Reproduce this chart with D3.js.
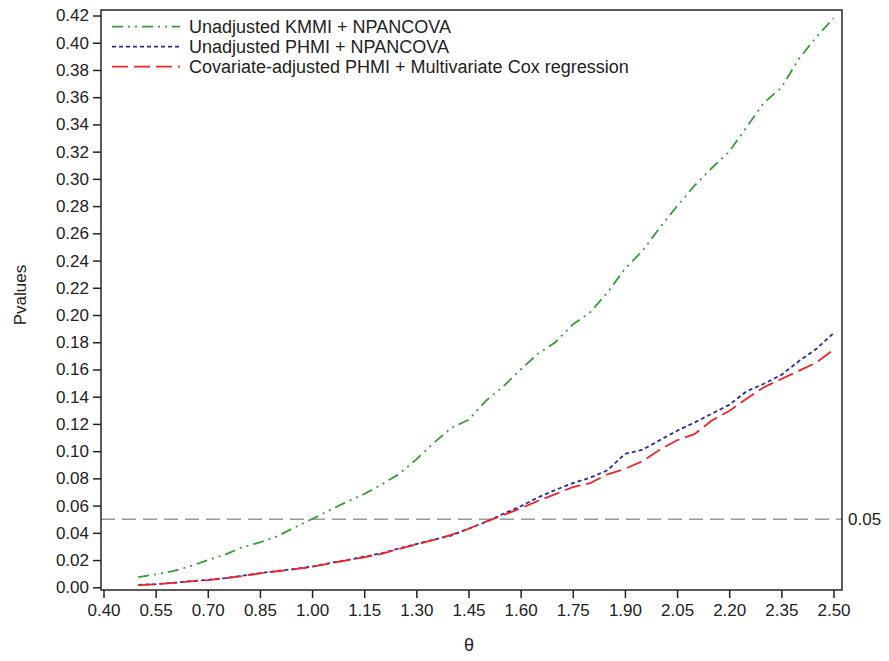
<!DOCTYPE html>
<html>
<head>
<meta charset="utf-8">
<script src="https://cdn.jsdelivr.net/npm/d3@7"></script>
<style>
  body { margin: 0; background: #fff; }
  svg { display: block; font-family: Arial, "Liberation Sans", sans-serif; }
  .tick text { font-size: 17px; fill: #222; }
  .domain { display: none; }
  .tick line { stroke: #222; stroke-width: 1.5; }
</style>
</head>
<body>
<svg id="chart"></svg>
<script>
const width = 889;
const height = 661;

// theta grid and p-values
var theta = [0.50, 0.55, 0.60, 0.65, 0.70, 0.75, 0.80, 0.85, 0.90, 0.95,
             1.00, 1.05, 1.10, 1.15, 1.20, 1.25, 1.30, 1.35, 1.40, 1.45,
             1.50, 1.55, 1.60, 1.65, 1.70, 1.75, 1.80, 1.85, 1.90, 1.95,
             2.00, 2.05, 2.10, 2.15, 2.20, 2.25, 2.30, 2.35, 2.40, 2.45, 2.50];
var kmmiNpancova = [0.0075, 0.0095, 0.0118, 0.0155, 0.0200, 0.0240, 0.0295, 0.0330, 0.0375, 0.0440,
                    0.0502, 0.0565, 0.0628, 0.0685, 0.0755, 0.0832, 0.0940, 0.1060, 0.1170, 0.1230,
                    0.1370, 0.1475, 0.1600, 0.1715, 0.1800, 0.1930, 0.2020, 0.2165, 0.2340, 0.2470,
                    0.2640, 0.2800, 0.2950, 0.3080, 0.3200, 0.3380, 0.3560, 0.3670, 0.3880, 0.4040, 0.4180];
var phmiNpancova = [0.0018, 0.0023, 0.0032, 0.0045, 0.0055, 0.0068, 0.0085, 0.0104, 0.0120, 0.0135,
                    0.0152, 0.0178, 0.0200, 0.0225, 0.0250, 0.0285, 0.0318, 0.0350, 0.0380, 0.0430,
                    0.0480, 0.0540, 0.0595, 0.0660, 0.0715, 0.0765, 0.0805, 0.0860, 0.0980, 0.1010,
                    0.1080, 0.1150, 0.1210, 0.1275, 0.1340, 0.1440, 0.1495, 0.1560, 0.1660, 0.1750, 0.1866];
var phmiCox = [0.0016, 0.0022, 0.0032, 0.0043, 0.0053, 0.0066, 0.0083, 0.0102, 0.0118, 0.0133,
               0.0150, 0.0175, 0.0198, 0.0220, 0.0246, 0.0282, 0.0315, 0.0348, 0.0385, 0.0430,
               0.0482, 0.0530, 0.0580, 0.0635, 0.0685, 0.0735, 0.0765, 0.0830, 0.0870, 0.0925,
               0.1010, 0.1080, 0.1125, 0.1225, 0.1295, 0.1385, 0.1470, 0.1530, 0.1590, 0.1650, 0.1745];

var seriesNames = ["Unadjusted KMMI + NPANCOVA",
                   "Unadjusted PHMI + NPANCOVA",
                   "Covariate-adjusted PHMI + Multivariate Cox regression"];
var xTicks = [0.40, 0.55, 0.70, 0.85, 1.00, 1.15, 1.30, 1.45, 1.60, 1.75, 1.90, 2.05, 2.20, 2.35, 2.50];
var yTicks = d3.range(0, 22).map(i => i * 0.02);
var refP = 0.05;

var series = [
    { name: seriesNames[0], values: kmmiNpancova, color: "#3a9a3a", dash: "11,5,2,5,2,5", w: 1.8 },
    { name: seriesNames[1], values: phmiNpancova, color: "#2b2b9a", dash: "4,3", w: 1.8 },
    { name: seriesNames[2], values: phmiCox, color: "#e8262b", dash: "16,6", w: 1.8 }
];

var frame = { left: 101, right: 842, top: 10, bottom: 590 };

var svg = d3.select("#chart")
    .attr("width", width)
    .attr("height", height);

var x = d3.scaleLinear().domain([0.40, 2.50]).range([103.5, 833.5]);
var y = d3.scaleLinear().domain([0, 0.42]).range([587.3, 15.5]);

// reference line at p = 0.05
svg.append("line")
    .attr("x1", frame.left)
    .attr("x2", frame.right)
    .attr("y1", y(refP))
    .attr("y2", y(refP))
    .attr("stroke", "#9a9a9a")
    .attr("stroke-width", 1.6)
    .attr("stroke-dasharray", "14,7");
svg.append("text")
    .attr("x", frame.right + 6)
    .attr("y", y(refP))
    .attr("dy", "0.35em")
    .style("font-size", "17px")
    .attr("fill", "#222")
    .text(refP.toFixed(2));

var line = d3.line()
    .x((d, i) => x(theta[i]))
    .y(d => y(d));

series.forEach(function(s) {
    svg.append("path")
        .datum(s.values)
        .attr("fill", "none")
        .attr("stroke", s.color)
        .attr("stroke-width", s.w)
        .attr("stroke-dasharray", s.dash)
        .attr("d", line);
});

// frame
svg.append("rect")
    .attr("x", frame.left)
    .attr("y", frame.top)
    .attr("width", frame.right - frame.left)
    .attr("height", frame.bottom - frame.top)
    .attr("fill", "none")
    .attr("stroke", "#333")
    .attr("stroke-width", 1.6);

svg.append("g")
    .attr("transform", "translate(0," + frame.bottom + ")")
    .call(d3.axisBottom(x).tickValues(xTicks).tickFormat(d3.format(".2f")).tickSize(8).tickPadding(6));

svg.append("g")
    .attr("transform", "translate(" + frame.left + ",0)")
    .call(d3.axisLeft(y).tickValues(yTicks).tickFormat(d3.format(".2f")).tickSize(8).tickPadding(4));

svg.append("text")
    .attr("x", 469)
    .attr("y", 651)
    .attr("text-anchor", "middle")
    .style("font-size", "18px")
    .attr("fill", "#222")
    .text("θ");

svg.append("text")
    .attr("transform", "translate(26,295) rotate(-90)")
    .attr("text-anchor", "middle")
    .style("font-size", "17px")
    .attr("fill", "#222")
    .text("Pvalues");

// legend
var legend = svg.append("g");
series.forEach(function(s, i) {
    var ly = 26.7 + i * 20;
    legend.append("line")
        .attr("x1", 112).attr("x2", 180)
        .attr("y1", ly).attr("y2", ly)
        .attr("stroke", s.color)
        .attr("stroke-width", s.w)
        .attr("stroke-dasharray", s.dash);
    legend.append("text")
        .attr("x", 189)
        .attr("y", ly)
        .attr("dy", "0.35em")
        .style("font-size", "18px")
        .attr("fill", "#222")
        .text(s.name);
});
</script>
</body>
</html>
